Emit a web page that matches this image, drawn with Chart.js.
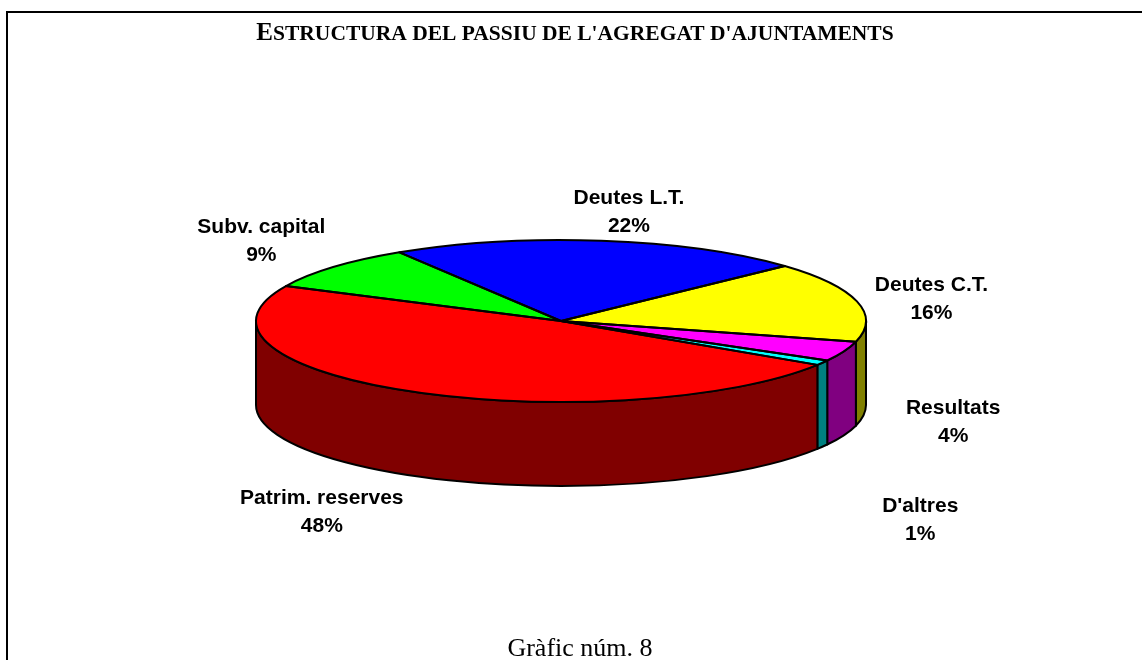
<!DOCTYPE html>
<html>
<head>
<meta charset="utf-8">
<script src="https://cdn.jsdelivr.net/npm/chart.js@4/dist/chart.umd.min.js"></script>
<style>
  html, body { margin: 0; padding: 0; background: #fff; overflow: hidden; }
  #wrap { position: relative; width: 1142px; height: 660px; }
  #frame { position: absolute; left: 6px; top: 11px; width: 1300px; height: 800px;
           border-left: 2px solid #000; border-top: 2px solid #000; }
  canvas { position: absolute; left: 0; top: 0; }
</style>
</head>
<body>
<div id="wrap">
  <div id="frame"></div>
  <canvas id="chart" width="1142" height="660"></canvas>
</div>
<script>
const categories = ['Deutes L.T.', 'Deutes C.T.', 'Resultats', "D'altres", 'Patrim. reserves', 'Subv. capital'];
const shares = [22, 16, 4, 1, 48, 9];
const topColors = ['#0000ff', '#ffff00', '#ff00ff', '#00ffff', '#ff0000', '#00ff00'];
const sideColors = ['#000080', '#808000', '#800080', '#008080', '#800000', '#008000'];
// small shifts (px) of each label from its default spot outside the rim
const labelNudge = [[21, 16], [26, 9], [63, -30], [55, 50], [-66, -3], [-35, 4]];

const titleCap = 'E';
const titleRest = "STRUCTURA DEL PASSIU DE L'AGREGAT D'AJUNTAMENTS";
const caption = 'Gràfic núm. 8';

const SQUASH = 81 / 305;   // vertical tilt of the pie
const DEPTH = 84;          // height of the side wall

function geom(chart) {
  const arcs = chart.getDatasetMeta(0).data;
  const a0 = arcs[0];
  return { arcs, cx: a0.x, cy: a0.y, rx: a0.outerRadius, ry: a0.outerRadius * SQUASH };
}

const pie3d = {
  id: 'pie3d',
  beforeDatasetsDraw(chart) {
    const ctx = chart.ctx;
    const { arcs, cx, cy, rx, ry } = geom(chart);
    ctx.save();
    ctx.lineWidth = 2;
    ctx.strokeStyle = '#000';
    ctx.lineJoin = 'round';
    // front walls: the part of every slice that faces the viewer
    arcs.forEach((arc, i) => {
      for (let k = -1; k <= 1; k++) {
        const lo = Math.max(arc.startAngle, 2 * Math.PI * k);
        const hi = Math.min(arc.endAngle, 2 * Math.PI * k + Math.PI);
        if (hi <= lo) continue;
        ctx.beginPath();
        ctx.ellipse(cx, cy, rx, ry, 0, lo, hi, false);
        ctx.lineTo(cx + rx * Math.cos(hi), cy + ry * Math.sin(hi) + DEPTH);
        ctx.ellipse(cx, cy + DEPTH, rx, ry, 0, hi, lo, true);
        ctx.closePath();
        ctx.fillStyle = sideColors[i];
        ctx.fill();
        ctx.stroke();
      }
    });
    ctx.restore();
    // squash the top face drawn by Chart.js
    ctx.save();
    ctx.translate(0, cy);
    ctx.scale(1, SQUASH);
    ctx.translate(0, -cy);
  },
  afterDatasetsDraw(chart) {
    const ctx = chart.ctx;
    ctx.restore();
    const { arcs, cx, cy, rx, ry } = geom(chart);
    ctx.save();
    ctx.lineWidth = 2;
    ctx.strokeStyle = '#000';
    ctx.lineJoin = 'round';
    arcs.forEach(arc => {
      ctx.beginPath();
      ctx.moveTo(cx, cy);
      ctx.ellipse(cx, cy, rx, ry, 0, arc.startAngle, arc.endAngle, false);
      ctx.closePath();
      ctx.stroke();
    });
    ctx.restore();
  },
  afterDraw(chart) {
    const ctx = chart.ctx;
    const { arcs, cx, cy, rx, ry } = geom(chart);
    const total = shares.reduce((s, v) => s + v, 0);
    ctx.save();
    ctx.fillStyle = '#000';
    ctx.textAlign = 'center';
    ctx.textBaseline = 'middle';
    ctx.font = "bold 21px 'Liberation Sans', Arial, sans-serif";
    arcs.forEach((arc, i) => {
      const mid = (arc.startAngle + arc.endAngle) / 2;
      const s = Math.sin(mid);
      const x = cx + (rx + 50) * Math.cos(mid) + labelNudge[i][0];
      const y = cy + (ry + 45) * s + (s > 0 ? DEPTH : 0) + labelNudge[i][1];
      ctx.fillText(categories[i], x, y - 14);
      ctx.fillText(Math.round(shares[i] / total * 100) + '%', x, y + 14);
    });

    // title in small caps
    ctx.textAlign = 'left';
    ctx.textBaseline = 'alphabetic';
    const capFont = "bold 25px 'Liberation Serif', 'Times New Roman', serif";
    const restFont = "bold 21.5px 'Liberation Serif', 'Times New Roman', serif";
    ctx.font = capFont;
    const w1 = ctx.measureText(titleCap).width;
    ctx.font = restFont;
    const w2 = ctx.measureText(titleRest).width;
    const tx = 575 - (w1 + w2) / 2;
    ctx.font = capFont;
    ctx.fillText(titleCap, tx, 40);
    ctx.font = restFont;
    ctx.fillText(titleRest, tx + w1, 40);

    ctx.textAlign = 'center';
    ctx.font = "26px 'Liberation Serif', 'Times New Roman', serif";
    ctx.fillText(caption, 580, 656);
    ctx.restore();
  }
};

new Chart(document.getElementById('chart'), {
  type: 'pie',
  data: {
    labels: categories,
    datasets: [{
      data: shares,
      backgroundColor: topColors,
      borderWidth: 0,
      clip: false
    }]
  },
  options: {
    responsive: false,
    animation: false,
    events: [],
    rotation: -32,
    layout: { padding: { left: 256, right: 276, top: 16, bottom: 34 } },
    plugins: {
      legend: { display: false },
      tooltip: { enabled: false },
      title: { display: false }
    }
  },
  plugins: [pie3d]
});
</script>
</body>
</html>
